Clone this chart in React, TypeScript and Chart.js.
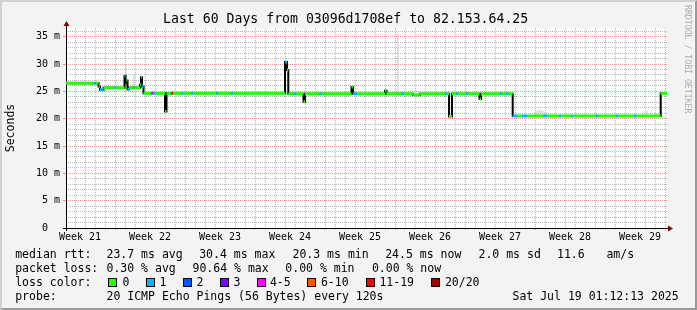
import React, { useEffect, useRef } from 'react';
import { Chart, registerables } from 'chart.js';

Chart.register(...registerables);

// ---------- texts ----------
const chartTitle = 'Last 60 Days from 03096d1708ef to 82.153.64.25';
const yAxisTitle = 'Seconds';
const creditText = 'RRDTOOL / TOBI OETIKER';

// ---------- x axis (days) ----------
const xMin = 0.1;
const xMax = 60.2;
const weekLabels = ['Week 21', 'Week 22', 'Week 23', 'Week 24', 'Week 25', 'Week 26', 'Week 27', 'Week 28', 'Week 29'];
const weekLabelDays = [1.5, 8.5, 15.5, 22.5, 29.5, 36.5, 43.5, 50.5, 57.5];
const weekStartDays = [5, 12, 19, 26, 33, 40, 47, 54];
const dayLineDays = Array.from({ length: 60 }, (_, i) => i + 1);

// ---------- y axis (ms) ----------
const yMin = 0;
const yMax = 36.6;
const yGridValues = Array.from({ length: 37 }, (_, i) => i);
const yLabelValues = [0, 5, 10, 15, 20, 25, 30, 35];

// ---------- median rtt (step starts, in days) ----------
const medianDays = [
  0.1, 2.8, 3.05, 3.35, 3.5, 3.85, 4.9, 5.1, 5.95, 6.05, 6.15, 6.25, 6.4, 6.8, 6.95, 7.5, 7.6, 7.7, 7.85,
  8.65, 8.8, 9.0, 10.0, 10.15, 10.65, 10.8, 11.6, 11.8, 12.6, 12.8, 15.1, 15.3, 16.6, 16.8,
  22.0, 22.2, 22.33, 22.8, 23.1, 23.85, 24.0, 25.4, 25.7, 28.65, 28.8, 29.2, 32.0, 32.15, 33.6, 33.9,
  34.8, 35.5, 38.0, 38.2, 38.4, 38.7, 39.1, 39.3, 40.1, 40.3, 41.45, 41.6, 43.5, 43.7, 44.1, 44.3,
  44.77, 45.2, 45.7, 46.2, 47.8, 48.2, 49.4, 49.6, 50.6, 50.8, 53.1, 53.3, 55.1, 55.3, 56.9, 57.1, 59.57,
];
const medianMs = [
  26.5, 26.5, 26.5, 25.9, 25.3, 25.65, 25.65, 25.65, 27.8, 26.2, 27.0, 25.4, 25.65, 25.65, 25.65, 26.2, 27.6, 25.9, 24.65,
  24.65, 24.65, 24.65, 21.3, 24.65, 24.65, 24.65, 24.65, 24.65, 24.65, 24.65, 24.65, 24.65, 24.65, 24.65,
  30.4, 28.9, 24.55, 24.55, 24.55, 23.1, 24.55, 24.55, 24.55, 25.8, 24.55, 24.55, 25.1, 24.55, 24.55, 24.55,
  24.35, 24.55, 24.55, 24.55, 20.4, 24.55, 24.55, 24.55, 24.55, 24.55, 23.6, 24.55, 24.55, 24.55, 24.55, 24.55,
  20.5, 20.5, 20.5, 20.5, 20.5, 20.5, 20.5, 20.5, 20.5, 20.5, 20.5, 20.5, 20.5, 20.5, 20.5, 20.5, 24.6,
];
// loss class index per step (0 = 0 lost, 1 = 1 lost, ... 7 = 20/20)
const medianLoss = [
  0, 1, 0, 5, 1, 0, 1, 0, 1, 0, 0, 1, 0, 1, 0, 0, 0, 1, 0,
  4, 1, 0, 0, 0, 6, 0, 1, 0, 1, 0, 1, 0, 1, 0,
  1, 0, 0, 1, 0, 0, 0, 1, 0, 0, 1, 0, 0, 0, 1, 0,
  0, 0, 1, 0, 0, 0, 1, 0, 1, 0, 0, 0, 1, 0, 1, 0,
  1, 0, 1, 0, 1, 0, 1, 0, 1, 0, 1, 0, 1, 0, 1, 0, 0,
];

// ---------- smoke (spread of pings) ----------
const smokeDays = [6.1, 6.9, 25.3, 30.0, 33.3, 47.0, 47.2, 47.4, 47.6, 47.8, 48.0, 48.2, 53.0, 57.8, 58.2, 58.6, 59.0];
const smokeLow = [25.6, 25.7, 24.6, 24.6, 24.6, 20.6, 20.6, 20.6, 20.6, 20.6, 20.6, 20.6, 20.6, 20.6, 20.6, 20.6, 20.6];
const smokeHigh = [29.6, 28.0, 25.2, 25.1, 35.7, 21.3, 21.5, 21.7, 21.6, 21.4, 21.3, 21.1, 21.1, 21.3, 21.4, 21.3, 21.2];

// ---------- legend ----------
const lossClassLabels = ['0', '1', '2', '3', '4-5', '6-10', '11-19', '20/20'];
const lossColors = ['#26ff00', '#00b8ff', '#0059ff', '#7e00ff', '#ff00ff', '#ff5500', '#ff0000', '#a10000'];
const rowHeads = ['median rtt:', 'packet loss:', 'loss color:', 'probe:'];
const rttStats = ['23.7 ms avg', '30.4 ms max', '20.3 ms min', '24.5 ms now', '2.0 ms sd', '11.6', 'am/s'];
const lossStats = ['0.30 % avg', '90.64 % max', '0.00 % min', '0.00 % now'];
const probeText = '20 ICMP Echo Pings (56 Bytes) every 120s';
const dateText = 'Sat Jul 19 01:12:13 2025';

// ---------- layout (pixels) ----------
const W = 697;
const H = 310;
const MONO = '"DejaVu Sans Mono", monospace';
const rttX = [106.5, 199.2, 292.5, 385.2, 478.5, 557, 606.4];
const lossX = [106.5, 192.5, 285.3, 371.9];
const boxX = [108, 146, 183, 220, 257, 307, 366, 431];
const boxLabelX = [122.5, 159.4, 196.5, 233.5, 269.9, 320.9, 379.4, 444.9];
const rowBase = [258.3, 272.3, 286.3, 300.2];

const GRID_MINOR = '#b8b8b8';
const GRID_MAJOR = '#eb9898';
const TICK_MINOR = '#c0c0c0';
const TICK_MAJOR = '#e89090';
const CLEAR = 'rgba(0,0,0,0)';

function buildMedianPoints() {
  const pts: { x: number; y: number }[] = [];
  for (let i = 0; i < medianDays.length; i++) {
    const end = i + 1 < medianDays.length ? medianDays[i + 1] : xMax;
    pts.push({ x: medianDays[i], y: medianMs[i] });
    pts.push({ x: end, y: medianMs[i] });
  }
  return pts;
}

function buildSmokePoints() {
  const pts: { x: number; y: number | null }[] = [];
  for (let i = 0; i < smokeDays.length; i++) {
    pts.push({ x: smokeDays[i], y: smokeLow[i] });
    pts.push({ x: smokeDays[i], y: smokeHigh[i] });
    pts.push({ x: smokeDays[i], y: null });
  }
  return pts;
}

const isWeekStart = (v: number) => weekStartDays.some((d) => Math.abs(d - v) < 1e-6);
const isDayLine = (v: number) => dayLineDays.some((d) => Math.abs(d - v) < 1e-6);
const weekIndex = (v: number) => weekLabelDays.findIndex((d) => Math.abs(d - v) < 1e-6);

// dotted 1px grid lines (one dot every second pixel), positioned by the chart's scales
const gridPlugin = {
  id: 'rrdGrid',
  beforeDatasetsDraw(chart: any) {
    const { ctx, chartArea: a, scales } = chart;
    const xs = scales.x;
    const ys = scales.y;
    const top = Math.round(a.top);
    const bottom = Math.round(a.bottom);
    const left = Math.round(a.left);
    const right = Math.round(a.right);
    ctx.save();
    for (const pass of [false, true]) {
      ctx.fillStyle = pass ? GRID_MAJOR : GRID_MINOR;
      for (const v of yGridValues) {
        if (v === 0 || (v % 5 === 0) !== pass) continue;
        const py = Math.round(ys.getPixelForValue(v) - 0.5);
        for (let x = left + 2; x < right; x += 2) ctx.fillRect(x, py, 1, 1);
      }
      for (const v of dayLineDays) {
        if (isWeekStart(v) !== pass) continue;
        const px = Math.round(xs.getPixelForValue(v));
        for (let y = top; y < bottom; y += 2) ctx.fillRect(px, y, 1, 1);
      }
    }
    ctx.restore();
  },
};

const framePlugin = {
  id: 'rrdFrame',
  beforeDraw(chart: any) {
    const { ctx, chartArea: a } = chart;
    ctx.save();
    ctx.fillStyle = '#ffffff';
    ctx.fillRect(a.left, a.top, a.right - a.left, a.bottom - a.top);
    ctx.restore();
  },
  afterDraw(chart: any) {
    const { ctx, chartArea: a } = chart;
    const ax = Math.round(a.left);
    const ay = Math.round(a.bottom);
    ctx.save();
    ctx.fillStyle = '#000000';
    ctx.fillRect(ax, a.top - 3, 1, 3);
    ctx.fillRect(ax - 3, ay, 3, 1);
    ctx.fillRect(ax, ay + 1, 1, 2);
    ctx.fillRect(a.right, ay, 2, 1);
    ctx.fillStyle = '#7f0000';
    ctx.beginPath();
    ctx.moveTo(ax - 2.5, a.top - 2);
    ctx.lineTo(ax + 3.5, a.top - 2);
    ctx.lineTo(ax + 0.5, a.top - 7);
    ctx.closePath();
    ctx.fill();
    ctx.beginPath();
    ctx.moveTo(a.right + 1, ay - 2.5);
    ctx.lineTo(a.right + 1, ay + 3.5);
    ctx.lineTo(a.right + 6, ay + 0.5);
    ctx.closePath();
    ctx.fill();
    ctx.restore();
  },
};

function Txt(props: { x: number; base: number; size: number; lh: number; color?: string; children: any }) {
  const { x, base, size, lh, color, children } = props;
  const top = base - ((lh - 1.164 * size) / 2 + 0.928 * size);
  return (
    <span
      style={{
        position: 'absolute',
        left: x,
        top,
        fontFamily: MONO,
        fontSize: size + 'px',
        lineHeight: lh + 'px',
        whiteSpace: 'pre',
        color: color || '#000',
      }}
    >
      {children}
    </span>
  );
}

export default function App() {
  const ref = useRef<HTMLCanvasElement>(null);

  useEffect(() => {
    const canvas = ref.current;
    if (!canvas) return;
    const median = buildMedianPoints();
    const chart = new Chart(canvas, {
      type: 'line',
      data: {
        datasets: [
          {
            label: 'median (loss colour)',
            data: median,
            order: 0,
            borderWidth: 3,
            borderColor: lossColors[0],
            pointRadius: 0,
            borderCapStyle: 'butt',
            segment: {
              borderColor: (c: any) => {
                const i = c.p0DataIndex;
                if (i % 2 === 1) return CLEAR;
                return lossColors[medianLoss[i / 2]];
              },
            },
          } as any,
          {
            label: 'median',
            data: median,
            order: 1,
            borderWidth: 2,
            borderColor: '#000000',
            pointRadius: 0,
          },
          {
            label: 'smoke',
            data: buildSmokePoints(),
            order: 2,
            borderWidth: 1,
            borderColor: '#c4c4c4',
            pointRadius: 0,
            spanGaps: false,
          },
        ],
      },
      options: {
        animation: false,
        responsive: false,
        devicePixelRatio: 1,
        events: [],
        layout: { padding: { left: 0, top: 28, right: 30, bottom: 60 } },
        plugins: { legend: { display: false }, tooltip: { enabled: false }, title: { display: false } },
        elements: { point: { radius: 0 }, line: { tension: 0 } },
        scales: {
          x: {
            type: 'linear',
            min: xMin,
            max: xMax,
            bounds: 'data',
            afterBuildTicks: (s: any) => {
              const vals = [...dayLineDays, ...weekLabelDays].sort((a, b) => a - b);
              s.ticks = vals.map((v) => ({ value: v }));
            },
            afterFit: (s: any) => {
              s.height = 22;
            },
            ticks: {
              autoSkip: false,
              maxRotation: 0,
              minRotation: 0,
              padding: 1,
              color: '#000',
              font: { family: MONO, size: 10 },
              callback: (v: any) => {
                const k = weekIndex(Number(v));
                return k >= 0 ? weekLabels[k] : '';
              },
            },
            grid: {
              drawOnChartArea: false,
              drawTicks: true,
              tickLength: 2,
              tickColor: (c: any) => {
                const v = c.tick ? c.tick.value : NaN;
                if (isWeekStart(v)) return TICK_MAJOR;
                if (isDayLine(v)) return TICK_MINOR;
                return CLEAR;
              },
            },
            border: { display: true, color: '#000', width: 1 },
          },
          y: {
            type: 'linear',
            min: yMin,
            max: yMax,
            bounds: 'data',
            afterBuildTicks: (s: any) => {
              s.ticks = yGridValues.map((v) => ({ value: v }));
            },
            afterFit: (s: any) => {
              s.width = 66;
            },
            ticks: {
              autoSkip: false,
              padding: 3,
              color: '#000',
              font: { family: MONO, size: 10 },
              callback: (v: any) => {
                const n = Number(v);
                if (!yLabelValues.includes(n)) return '';
                return n === 0 ? '0  ' : n + ' m';
              },
            },
            grid: {
              drawOnChartArea: false,
              drawTicks: true,
              tickLength: 3,
              tickColor: (c: any) => {
                const v = c.tick ? c.tick.value : NaN;
                return v % 5 === 0 ? TICK_MAJOR : CLEAR;
              },
            },
            border: { display: true, color: '#000', width: 1 },
            title: {
              display: true,
              text: yAxisTitle,
              color: '#000',
              font: { family: MONO, size: 11.5 },
              padding: { top: 4, bottom: 0 },
            },
          },
        },
      } as any,
      plugins: [framePlugin, gridPlugin],
    });
    return () => chart.destroy();
  }, []);

  return (
    <div style={{ position: 'absolute', left: 0, top: 0, width: W, height: H, background: '#f3f3f3', overflow: 'hidden' }}>
      <canvas ref={ref} width={W} height={H} style={{ position: 'absolute', left: 0, top: 0, width: W, height: H }} />
      <div
        style={{
          position: 'absolute',
          left: 0,
          top: 0,
          width: W,
          height: H,
          boxSizing: 'border-box',
          borderTop: '2px solid #d2d2d2',
          borderLeft: '2px solid #d2d2d2',
          borderRight: '2px solid #9a9a9a',
          borderBottom: '2px solid #9a9a9a',
          pointerEvents: 'none',
        }}
      />
      <Txt x={163} base={24} size={13.2} lh={16}>{chartTitle}</Txt>
      <span
        style={{
          position: 'absolute',
          left: 683,
          top: 4.5,
          writingMode: 'vertical-rl',
          fontFamily: MONO,
          fontSize: '8.2px',
          lineHeight: '10px',
          whiteSpace: 'pre',
          color: '#ababab',
        }}
      >
        {creditText}
      </span>

      {rowHeads.map((h, i) => (
        <Txt key={'h' + i} x={15.2} base={rowBase[i]} size={11.5} lh={14}>{h}</Txt>
      ))}
      {rttStats.map((s, i) => (
        <Txt key={'r' + i} x={rttX[i]} base={rowBase[0]} size={11.5} lh={14}>{s}</Txt>
      ))}
      {lossStats.map((s, i) => (
        <Txt key={'l' + i} x={lossX[i]} base={rowBase[1]} size={11.5} lh={14}>{s}</Txt>
      ))}
      {lossClassLabels.map((s, i) => (
        <React.Fragment key={'c' + i}>
          <div
            style={{
              position: 'absolute',
              left: boxX[i],
              top: 278,
              width: 9,
              height: 9,
              boxSizing: 'border-box',
              border: '1px solid #000',
              background: lossColors[i],
            }}
          />
          <Txt x={boxLabelX[i]} base={rowBase[2]} size={11.5} lh={14}>{s}</Txt>
        </React.Fragment>
      ))}
      <Txt x={106.5} base={rowBase[3]} size={11.5} lh={14}>{probeText}</Txt>
      <Txt x={512.5} base={rowBase[3]} size={11.5} lh={14}>{dateText}</Txt>
    </div>
  );
}
